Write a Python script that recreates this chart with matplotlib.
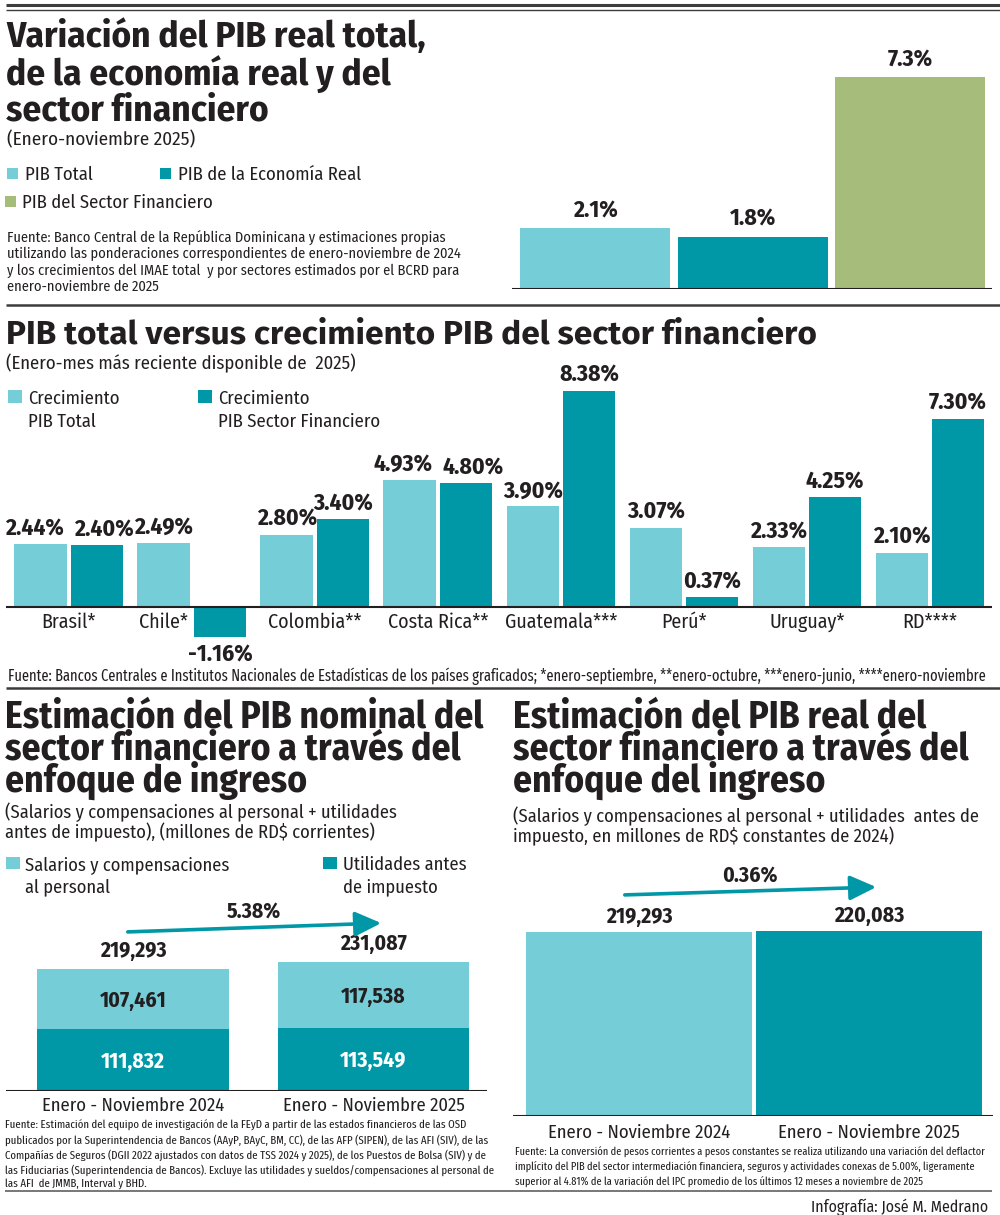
import matplotlib
matplotlib.use('Agg')
import matplotlib.pyplot as plt
from matplotlib import font_manager
from matplotlib.font_manager import FontProperties
from matplotlib.patches import Rectangle, FancyArrowPatch
from matplotlib.lines import Line2D

# ---------------- data ----------------
cats1 = ['PIB Total', 'PIB de la Economía Real', 'PIB del Sector Financiero']
vals1 = [2.1, 1.8, 7.3]

countries = ['Brasil*', 'Chile*', 'Colombia**', 'Costa Rica**', 'Guatemala***', 'Perú*', 'Uruguay*', 'RD****']
pib_total = [2.44, 2.49, 2.80, 4.93, 3.90, 3.07, 2.33, 2.10]
pib_fin = [2.40, -1.16, 3.40, 4.80, 8.38, 0.37, 4.25, 7.30]
legend2 = ['Crecimiento\nPIB Total', 'Crecimiento\nPIB Sector Financiero']

periods = ['Enero - Noviembre 2024', 'Enero - Noviembre 2025']
salarios = [107461, 117538]
utilidades = [111832, 113549]
legend3 = ['Salarios y compensaciones\nal personal', 'Utilidades antes\nde impuesto']

pib_real_fin = [219293, 220083]

# ---------------- style ----------------
W, H = 1000, 1215
names = {f.name for f in font_manager.fontManager.ttflist}


def pick(cands):
    for c in cands:
        if c in names:
            return c
    return 'DejaVu Sans'


BODY = pick(['Fira Sans Condensed', 'Encode Sans Condensed', 'Liberation Sans'])
XCOND = pick(['Fira Sans Extra Condensed', 'Fira Sans Condensed', 'Liberation Sans'])
WIDE = pick(['Fira Sans', 'Liberation Sans'])
plt.rcParams['font.family'] = [BODY, 'DejaVu Sans']
BODYF = [BODY, 'DejaVu Sans']
NOTEF = [XCOND, 'DejaVu Sans']
WIDEF = [WIDE, 'DejaVu Sans']

LIGHT = '#75CDD8'
DARK = '#0098A7'
GREEN = '#A5BC7A'
INK = '#231F20'
RULE = '#3c3c3c'

fig = plt.figure(figsize=(10, 12.15), dpi=100)
fig.patch.set_facecolor('white')
renderer = fig.canvas.get_renderer()


def fx(x):
    return x / W


def fy(y):
    return 1 - y / H


def fit_size(s, size, width, weight='normal', family=None):
    fp = FontProperties(family=family or BODYF, weight=weight, size=size)
    w, _, _ = renderer.get_text_width_height_descent(s, fp, ismath=False)
    return size * width / w


def text(x, y, s, size, weight='normal', color=INK, ha='left', va='baseline', family=None):
    fp = FontProperties(family=family or BODYF, weight=weight, size=size)
    return fig.text(fx(x), fy(y), s, fontproperties=fp, color=color, ha=ha, va=va)


def mtext(x, y, lines, size, step, weight='normal', family=None, ha='left', color=INK):
    """Multi-line text: y is the first baseline, step the mean baseline spacing (px)."""
    fp = FontProperties(family=family or BODYF, weight=weight, size=size)
    _, lp_h, lp_d = renderer.get_text_width_height_descent('lp', fp, ismath=False)
    mets = [renderer.get_text_width_height_descent(l, fp, ismath=False) for l in lines]
    asc = lp_h - lp_d
    first_asc = max(mets[0][1], lp_h) - max(mets[0][2], lp_d)
    ds = [max(m[2], lp_d) for m in mets[:-1]] or [lp_d]
    ls = (step - sum(ds) / len(ds)) / asc
    return fig.text(fx(x), fy(y - first_asc), '\n'.join(lines), fontproperties=fp,
                    color=color, ha=ha, va='top', linespacing=ls, multialignment=ha)


def hline(x0, x1, y, lw, color=RULE):
    fig.add_artist(Line2D([fx(x0), fx(x1)], [fy(y), fy(y)], lw=lw, color=color,
                          transform=fig.transFigure, solid_capstyle='butt'))


def square(x, y, w, h, color):
    fig.add_artist(Rectangle((fx(x), fy(y + h)), w / W, h / H, color=color,
                             transform=fig.transFigure, lw=0))


def ax_px(l, t, r, b):
    ax = fig.add_axes([fx(l), fy(b), (r - l) / W, (b - t) / H])
    ax.axis('off')
    return ax


# ---------------- rules ----------------
hline(6, 1000, 5, 2.2)
hline(6, 1000, 10, 1.0)
hline(6, 1000, 305, 1.8)
hline(6, 1000, 688, 1.8)
hline(5, 992, 1191, 1.4, '#777777')

# ================= Section 1 =================
t1 = ['Variación del PIB real total,', 'de la economía real y del', 'sector financiero']
s = fit_size(t1[0], 27, 419, 'bold')
mtext(6, 47, t1, s, 35.5, weight='bold')
s = fit_size('(Enero-noviembre 2025)', 13, 189)
text(7, 145, '(Enero-noviembre 2025)', s)

lg = fit_size(cats1[1], 13, 183)
cols1 = [LIGHT, DARK, GREEN]
leg_pos = [(7, 25, 180), (160, 178, 180), (5, 22, 208)]
for (sx, tx, by), c, lab in zip(leg_pos, cols1, cats1):
    square(sx, by - 12, 11, 11, c)
    text(tx, by, lab, lg)

f1 = ['Fuente: Banco Central de la República Dominicana y estimaciones propias',
      'utilizando las ponderaciones correspondientes de enero-noviembre de 2024',
      'y los crecimientos del IMAE total  y por sectores estimados por el BCRD para',
      'enero-noviembre de 2025']
s = fit_size(f1[1], 10, 453)
mtext(7, 242, f1, s, 16.4)

ax1 = ax_px(512, 40, 992, 289)
ax1.set_xlim(-0.53, 2.52)
ax1.set_ylim(0, 249 / 29.0)
ax1.bar(range(3), vals1, width=0.952, color=cols1, linewidth=0)
ax1.axhline(0, color=INK, lw=1.5)
lab1 = fit_size('7.3%', 14, 45, 'bold')
for i, v in enumerate(vals1):
    ax1.annotate(f'{v:.1f}%', xy=(i, v), xytext=(0, 6), textcoords='offset pixels',
                 ha='center', va='bottom', fontsize=lab1, fontweight='bold', color=INK)

# ================= Section 2 =================
t2 = 'PIB total versus crecimiento PIB del sector financiero'
s = fit_size(t2, 24, 812, 'bold', WIDEF)
text(6, 343, t2, s, weight='bold', family=WIDEF)
sub2 = '(Enero-mes más reciente disponible de  2025)'
s = fit_size(sub2, 13, 350)
text(6, 369, sub2, s)

lg2 = fit_size('PIB Sector Financiero', 13, 162)
for (sx, tx), c, lab in zip([(8, 28), (198, 218)], [LIGHT, DARK], legend2):
    square(sx, 390, 14, 13, c)
    mtext(tx, 404, lab.split('\n'), lg2, 23)

ax2 = ax_px(6, 380, 992, 650)
ax2.set_xlim(-0.512, 7.504)
ax2.set_ylim(-(650 - 607) / 25.8, (607 - 380) / 25.8)
x2 = list(range(len(countries)))
off = 0.228
bw = 0.43
ax2.bar([i - off for i in x2], pib_total, width=bw, color=LIGHT, linewidth=0)
ax2.bar([i + off for i in x2], pib_fin, width=bw, color=DARK, linewidth=0)
ax2.axhline(0, color=INK, lw=1.5)
lab2 = fit_size('8.38%', 14, 60, 'bold')
cat2 = fit_size('Guatemala***', 13, 113)
for i in x2:
    close = abs(pib_total[i] - pib_fin[i]) < 0.6
    for xx, v, sgn in ((i - off, pib_total[i], -1), (i + off, pib_fin[i], 1)):
        dx = 7 * sgn if close else 0
        if v >= 0:
            ax2.annotate(f'{v:.2f}%', xy=(xx, v), xytext=(dx, 4), textcoords='offset pixels',
                         ha='center', va='bottom', fontsize=lab2, fontweight='bold', color=INK)
        else:
            ax2.annotate(f'{v:.2f}%', xy=(xx, v), xytext=(dx, -6), textcoords='offset pixels',
                         ha='center', va='top', fontsize=lab2, fontweight='bold', color=INK)
    cx = i - off if pib_fin[i] < 0 else i
    ax2.annotate(countries[i], xy=(cx, 0), xytext=(0, -21), textcoords='offset pixels',
                 ha='center', va='baseline', fontsize=cat2, color=INK)

f2 = ('Fuente: Bancos Centrales e Institutos Nacionales de Estadísticas de los países graficados; '
      '*enero-septiembre, **enero-octubre, ***enero-junio, ****enero-noviembre')
s = fit_size(f2, 10, 980, family=NOTEF)
text(8, 681, f2, s, family=NOTEF)

# ================= Section 3 left =================
t3 = ['Estimación del PIB nominal del', 'sector financiero a través del', 'enfoque de ingreso']
ts3 = fit_size(t3[0], 24, 478, 'bold')
mtext(5, 728, t3, ts3, 31, weight='bold')
sub3 = ['(Salarios y compensaciones al personal + utilidades',
        'antes de impuesto), (millones de RD$ corrientes)']
ss3 = fit_size(sub3[0], 13, 393)
mtext(5, 818, sub3, ss3, 19)

lg3 = fit_size('Salarios y compensaciones', 13, 205)
for (sx, tx), c, lab in zip([(6, 25), (323, 343)], [LIGHT, DARK], legend3):
    square(sx, 857, 14, 12, c)
    mtext(tx, 870, lab.split('\n'), lg3, 22)

ax3 = ax_px(6, 930, 487, 1091)
ax3.set_xlim(-0.528, 1.472)
ax3.set_ylim(0, 231087 * (1091 - 930) / 129.0)
x3 = [0, 1]
ax3.bar(x3, utilidades, width=0.798, color=DARK, linewidth=0)
ax3.bar(x3, salarios, bottom=utilidades, width=0.798, color=LIGHT, linewidth=0)
ax3.axhline(0, color=INK, lw=1.5)
vlab = fit_size('219,293', 14, 66, 'bold')
xl3 = fit_size(periods[0], 14, 183)
for i in x3:
    tot = salarios[i] + utilidades[i]
    ax3.annotate(f'{tot:,}', xy=(i, tot), xytext=(0, 12), textcoords='offset pixels',
                 ha='center', va='baseline', fontsize=vlab, fontweight='bold', color=INK)
    ax3.annotate(f'{salarios[i]:,}', xy=(i, utilidades[i] + salarios[i] / 2), xytext=(0, -8),
                 textcoords='offset pixels', ha='center', va='baseline', fontsize=vlab,
                 fontweight='bold', color=INK)
    ax3.annotate(f'{utilidades[i]:,}', xy=(i, utilidades[i] / 2), xytext=(0, -8),
                 textcoords='offset pixels', ha='center', va='baseline', fontsize=vlab,
                 fontweight='bold', color='white')
    ax3.annotate(periods[i], xy=(i, 0), xytext=(0, -20), textcoords='offset pixels',
                 ha='center', va='baseline', fontsize=xl3, color=INK)

tot3 = [a + b for a, b in zip(salarios, utilidades)]
g3 = (tot3[1] / tot3[0] - 1) * 100
fig.add_artist(FancyArrowPatch((fx(125), fy(932)), (fx(384), fy(923)), transform=fig.transFigure,
                               arrowstyle='-|>,head_length=1.6,head_width=0.75',
                               mutation_scale=10, lw=2.6, color=DARK))
text(254, 918, f'{g3:.2f}%', vlab, weight='bold', ha='center')

f3 = ['Fuente: Estimación del equipo de investigación de la FEyD a partir de las estados financieros de las OSD',
      'publicados por la Superintendencia de Bancos (AAyP, BAyC, BM, CC), de las AFP (SIPEN), de las AFI (SIV), de las',
      'Compañías de Seguros (DGII 2022 ajustados con datos de TSS 2024 y 2025), de los Puestos de Bolsa (SIV) y de',
      'las Fiduciarias (Superintendencia de Bancos). Excluye las utilidades y sueldos/compensaciones al personal de',
      'las AFI  de JMMB, Interval y BHD.']
s = fit_size(f3[1], 8, 483, family=NOTEF)
mtext(5, 1129, f3, s, 13.6, family=NOTEF)

# ================= Section 3 right =================
t4 = ['Estimación del PIB real del', 'sector financiero a través del', 'enfoque del ingreso']
mtext(513, 728, t4, ts3, 31, weight='bold')
sub4 = ['(Salarios y compensaciones al personal + utilidades  antes de',
        'impuesto, en millones de RD$ constantes de 2024)']
s = fit_size(sub4[0], 13, 467)
mtext(513, 822, sub4, s, 19)

ax4 = ax_px(513, 900, 993, 1116)
ax4.set_xlim(-0.548, 1.539)
ax4.set_ylim(0, 219293 * (1116 - 900) / 184.0)
ax4.bar([0, 1], pib_real_fin, width=0.983, color=[LIGHT, DARK], linewidth=0)
ax4.axhline(0, color=INK, lw=1.5)
for i, v in enumerate(pib_real_fin):
    ax4.annotate(f'{v:,}', xy=(i, v), xytext=(0, 9), textcoords='offset pixels',
                 ha='center', va='baseline', fontsize=vlab, fontweight='bold', color=INK)
    ax4.annotate(periods[i], xy=(i, 0), xytext=(0, -22), textcoords='offset pixels',
                 ha='center', va='baseline', fontsize=xl3, color=INK)

g4 = (pib_real_fin[1] / pib_real_fin[0] - 1) * 100
fig.add_artist(FancyArrowPatch((fx(622), fy(895)), (fx(879), fy(887)), transform=fig.transFigure,
                               arrowstyle='-|>,head_length=1.6,head_width=0.75',
                               mutation_scale=10, lw=2.6, color=DARK))
text(750, 882, f'{g4:.2f}%', vlab, weight='bold', ha='center')

f4 = ['Fuente: La conversión de pesos corrientes a pesos constantes se realiza utilizando una variación del deflactor',
      'implícito del PIB del sector intermediación financiera, seguros y actividades conexas de 5.00%, ligeramente',
      'superior al 4.81% de la variación del IPC promedio de los últimos 12 meses a noviembre de 2025']
s = fit_size(f4[0], 8, 470, family=NOTEF)
mtext(515, 1156, f4, s, 14, family=NOTEF)

cred = 'Infografía: José M. Medrano'
s = fit_size(cred, 12, 178)
text(988, 1212, cred, s, ha='right')

fig.savefig('out.png', dpi=100, facecolor='white')
